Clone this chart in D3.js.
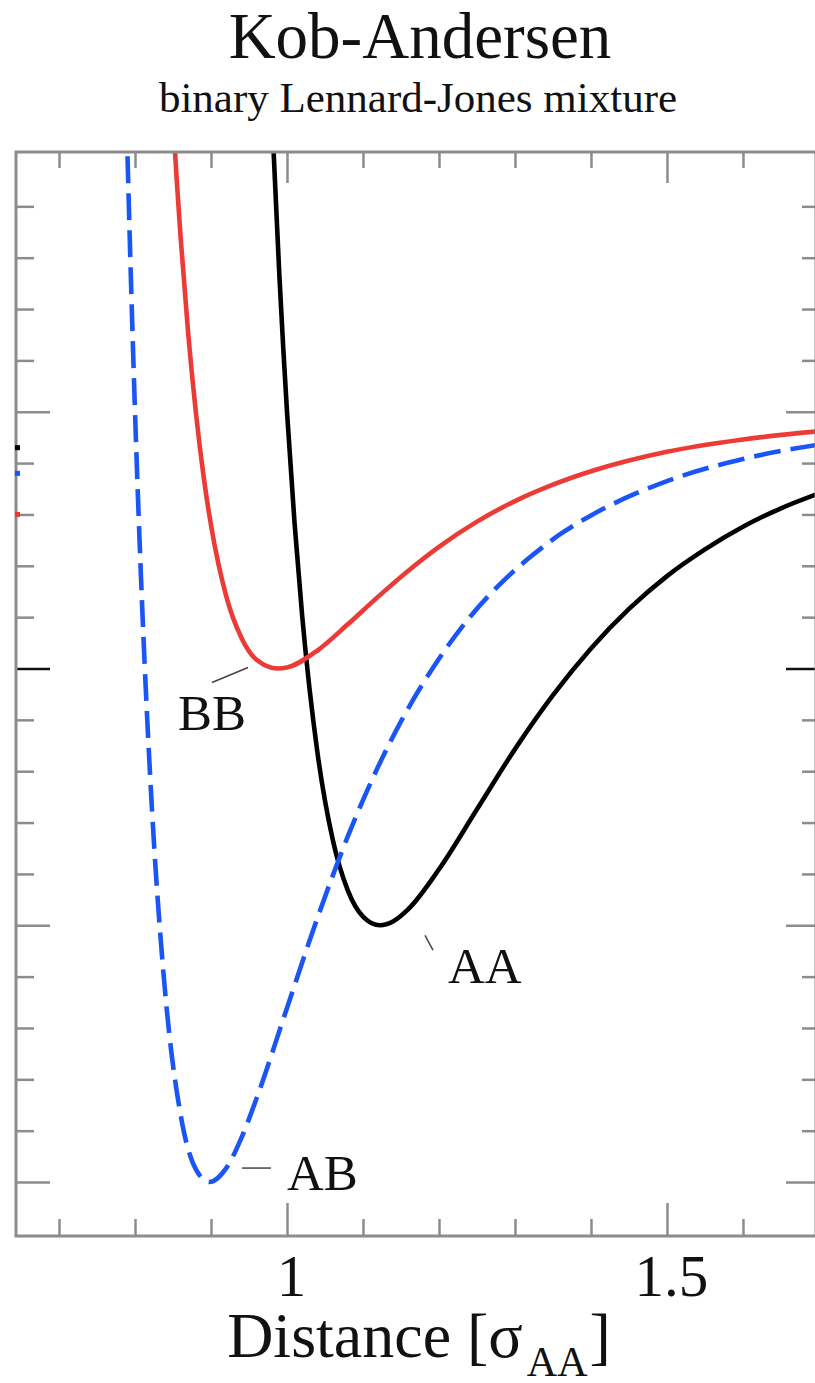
<!DOCTYPE html>
<html>
<head>
<meta charset="utf-8">
<script src="https://cdn.jsdelivr.net/npm/d3@7"></script>
<style>
  html, body { margin: 0; padding: 0; background: #fff; }
  svg text { font-family: "Liberation Serif", "Times New Roman", serif; fill: #111; }
</style>
</head>
<body>
<div id="chart"></div>
<script>
// ---- data (distance in sigma_AA, energy in eps_AA)
var aaR = [0.975, 0.98, 0.99, 0.995, 1.00, 1.01, 1.02, 1.04, 1.06, 1.08, 1.10, 1.1225, 1.14, 1.16, 1.20, 1.25, 1.30, 1.35, 1.40, 1.45, 1.50, 1.55, 1.60, 1.65, 1.70, 1.75];
var aaV = [0.764, 0.582, 0.264, 0.126, 0.0, -0.218, -0.398, -0.663, -0.832, -0.932, -0.983, -1.0, -0.992, -0.968, -0.891, -0.774, -0.657, -0.552, -0.461, -0.384, -0.320, -0.268, -0.224, -0.188, -0.159, -0.134];

var bbR = [0.85, 0.855, 0.86, 0.87, 0.88, 0.89, 0.90, 0.92, 0.94, 0.96, 0.988, 1.00, 1.04, 1.08, 1.12, 1.16, 1.20, 1.25, 1.30, 1.35, 1.40, 1.50, 1.60, 1.70, 1.75];
var bbV = [0.570, 0.449, 0.340, 0.152, 0.0, -0.123, -0.221, -0.359, -0.440, -0.483, -0.500, -0.498, -0.465, -0.414, -0.360, -0.309, -0.263, -0.214, -0.174, -0.142, -0.116, -0.078, -0.054, -0.038, -0.032];

var abR = [0.78, 0.785, 0.79, 0.795, 0.80, 0.81, 0.82, 0.84, 0.86, 0.88, 0.898, 0.92, 0.94, 0.96, 1.00, 1.04, 1.08, 1.12, 1.15, 1.20, 1.24, 1.28, 1.32, 1.36, 1.40, 1.50, 1.60, 1.70, 1.75];
var abV = [1.146, 0.808, 0.507, 0.239, 0.0, -0.400, -0.712, -1.136, -1.369, -1.475, -1.500, -1.473, -1.414, -1.337, -1.161, -0.986, -0.827, -0.691, -0.603, -0.481, -0.401, -0.336, -0.283, -0.238, -0.202, -0.135, -0.092, -0.064, -0.054];

// stray end points sitting on the left frame
var edgeV = [-0.07, -0.12, -0.20];
var edgeNames = ['AA', 'AB', 'BB'];

var xMajor = [1, 1.5];
var xMinor = [0.7, 0.8, 0.9, 1.1, 1.2, 1.3, 1.4, 1.6];
var yMajor = [0, -0.5, -1, -1.5];
var yMinor = [0.4, 0.3, 0.2, 0.1, -0.1, -0.2, -0.3, -0.4, -0.6, -0.7, -0.8, -0.9, -1.1, -1.2, -1.3, -1.4];

var labelNames = ['BB', 'AA', 'AB'];
var labelR = [0.8566, 1.2118, 1.0];
var labelV = [-0.6206, -1.1128, -1.5156];
// leader lines: [r0, v0, r1, v1]
var leaders = [[0.9013, -0.5272, 0.9487, -0.4981], [1.1816, -1.0195, 1.1921, -1.0486], [0.9408, -1.4728, 0.9789, -1.4728]];

(function(){
    var W = 815, H = 1383,
        pL = 16, pR = 816, pT = 152, pB = 1236,
        frameColor = '#8c8c8c',
        colors = {AA: '#000000', BB: '#ec3b36', AB: '#1a55f5'};

    var svg = d3.select('#chart').append('svg')
        .attr('width', W)
        .attr('height', H);

    var x = d3.scaleLinear().domain([0.6434, 1.6961]).range([pL, pR]),
        y = d3.scaleLinear().domain([-1.6051, 0.5058]).range([pB, pT]);

// ================ titles
    svg.append('text')
        .attr('x', 420).attr('y', 58)
        .attr('text-anchor', 'middle')
        .attr('font-size', '65px')
        .text('Kob-Andersen');
    svg.append('text')
        .attr('x', 418).attr('y', 112)
        .attr('text-anchor', 'middle')
        .attr('font-size', '43px')
        .text('binary Lennard-Jones mixture');

// ================ curves
    svg.append('clipPath').attr('id', 'plotclip')
        .append('rect')
        .attr('x', pL).attr('y', pT)
        .attr('width', pR - pL).attr('height', pB - pT);

    var line = d3.line()
        .x(function(d){ return x(d[0]); })
        .y(function(d){ return y(d[1]); })
        .curve(d3.curveMonotoneX);

    var curves = [
        {name: 'AA', pts: d3.zip(aaR, aaV), dash: null},
        {name: 'BB', pts: d3.zip(bbR, bbV), dash: null},
        {name: 'AB', pts: d3.zip(abR, abV), dash: '27,10'}
    ];

    var plot = svg.append('g').attr('clip-path', 'url(#plotclip)');
    plot.selectAll('path.curve').data(curves).enter()
        .append('path')
        .attr('class', 'curve')
        .attr('d', function(d){ return line(d.pts); })
        .attr('fill', 'none')
        .attr('stroke', function(d){ return colors[d.name]; })
        .attr('stroke-width', 4.6)
        .attr('stroke-linejoin', 'round')
        .attr('stroke-dasharray', function(d){ return d.dash; });

// ================ axes (ticks point inwards, domain drawn as a frame)
    function styleAxis(g) {
        g.select('.domain').remove();
        g.selectAll('.tick line').attr('stroke', frameColor).attr('stroke-width', 2.5);
        g.selectAll('.tick text').attr('font-family', '"Liberation Serif", serif').attr('fill', '#111');
    }
    function darkHalf(d){ return d === -0.5 ? '#111' : frameColor; }

    svg.append('g').attr('transform', 'translate(0,' + pB + ')')
        .call(d3.axisBottom(x).tickValues(xMinor).tickSize(-17).tickFormat(''))
        .call(styleAxis);
    svg.append('g').attr('transform', 'translate(0,' + pB + ')')
        .call(d3.axisBottom(x).tickValues(xMajor).tickSize(-33).tickPadding(18).tickFormat(d3.format('')))
        .call(styleAxis)
        .selectAll('.tick text')
        .attr('font-size', '59px')
        .attr('dx', '4px');

    svg.append('g').attr('transform', 'translate(0,' + pT + ')')
        .call(d3.axisTop(x).tickValues(xMinor).tickSize(-16).tickFormat(''))
        .call(styleAxis);
    svg.append('g').attr('transform', 'translate(0,' + pT + ')')
        .call(d3.axisTop(x).tickValues(xMajor).tickSize(-31).tickFormat(''))
        .call(styleAxis);

    svg.append('g').attr('transform', 'translate(' + pL + ',0)')
        .call(d3.axisLeft(y).tickValues(yMinor).tickSize(-18).tickFormat(''))
        .call(styleAxis);
    svg.append('g').attr('transform', 'translate(' + pL + ',0)')
        .call(d3.axisLeft(y).tickValues(yMajor).tickSize(-34).tickFormat(''))
        .call(styleAxis)
        .selectAll('.tick line')
        .attr('stroke', darkHalf);

    svg.append('g').attr('transform', 'translate(' + pR + ',0)')
        .call(d3.axisRight(y).tickValues(yMinor).tickSize(-14).tickFormat(''))
        .call(styleAxis);
    svg.append('g').attr('transform', 'translate(' + pR + ',0)')
        .call(d3.axisRight(y).tickValues(yMajor).tickSize(-30).tickFormat(''))
        .call(styleAxis)
        .selectAll('.tick line')
        .attr('stroke', darkHalf);

    svg.append('rect')
        .attr('x', pL).attr('y', pT)
        .attr('width', pR - pL).attr('height', pB - pT)
        .attr('fill', 'none')
        .attr('stroke', frameColor)
        .attr('stroke-width', 3);

    // little end marks on the left frame
    svg.selectAll('rect.edge').data(edgeV).enter()
        .append('rect')
        .attr('class', 'edge')
        .attr('x', pL - 1).attr('width', 5)
        .attr('y', function(d){ return y(d) - 2.5; }).attr('height', 5)
        .attr('fill', function(d, i){ return colors[edgeNames[i]]; });

// ================ curve labels
    svg.selectAll('line.leader').data(leaders).enter()
        .append('line')
        .attr('class', 'leader')
        .attr('x1', function(d){ return x(d[0]); })
        .attr('y1', function(d){ return y(d[1]); })
        .attr('x2', function(d){ return x(d[2]); })
        .attr('y2', function(d){ return y(d[3]); })
        .attr('stroke', '#444')
        .attr('stroke-width', 1.5);

    svg.selectAll('text.lab').data(labelNames).enter()
        .append('text')
        .attr('class', 'lab')
        .attr('x', function(d, i){ return x(labelR[i]); })
        .attr('y', function(d, i){ return y(labelV[i]); })
        .attr('font-size', '51px')
        .text(function(d){ return d; });

// ================ x axis title
    var xt = svg.append('text')
        .attr('x', 419).attr('y', 1357)
        .attr('text-anchor', 'middle')
        .attr('font-size', '64px');
    xt.append('tspan').text('Distance [σ');
    xt.append('tspan').attr('font-size', '42px').attr('dy', 19).attr('dx', 4).text('AA');
    xt.append('tspan').attr('dy', -19).attr('dx', 2).text(']');
})();
</script>
</body>
</html>
